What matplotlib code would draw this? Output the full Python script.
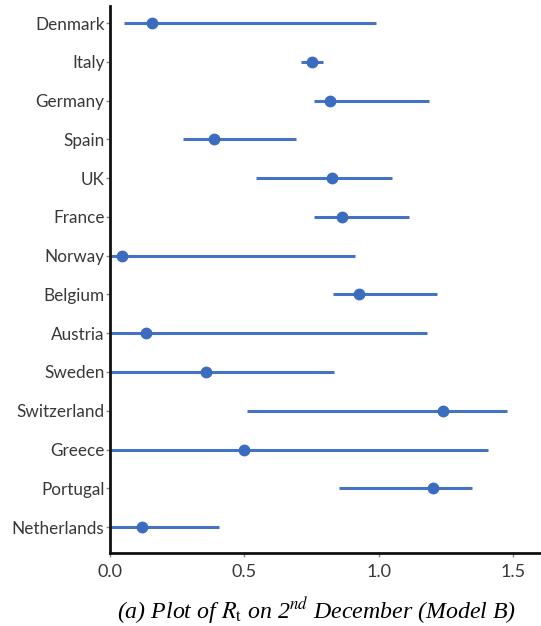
"""Forest-style plot of R_t per country on 2nd December (Model B)."""
import matplotlib
matplotlib.use("Agg")
import matplotlib.pyplot as plt

countries = ["Denmark", "Italy", "Germany", "Spain", "UK", "France", "Norway", "Belgium",
             "Austria", "Sweden", "Switzerland", "Greece", "Portugal", "Netherlands"]
rt_mean = [0.158, 0.752, 0.819, 0.387, 0.826, 0.865, 0.045, 0.925,
           0.135, 0.356, 1.238, 0.499, 1.203, 0.120]
rt_low = [0.054, 0.711, 0.761, 0.272, 0.545, 0.758, 0.0, 0.829,
          0.0, 0.0, 0.509, 0.0, 0.851, 0.0]
rt_high = [0.990, 0.793, 1.186, 0.692, 1.051, 1.114, 0.913, 1.217,
           1.179, 0.835, 1.476, 1.407, 1.346, 0.407]
xticks = [0.0, 0.5, 1.0, 1.5]

plt.rcParams["mathtext.fontset"] = "stix"

fig = plt.figure(figsize=(5.41, 6.26), dpi=100)
ax = fig.add_axes([0.2033, 0.1166, 0.7967, 0.8738])

ypos = list(range(len(countries)))
line_c, dot_c = "#4472C4", "#3b6cbf"
ax.hlines(ypos, rt_low, rt_high, color=line_c, lw=2.2, zorder=2)
ax.plot(rt_mean, ypos, "o", color=dot_c, ms=7.5, mec=dot_c, zorder=3)

ax.set_xlim(0, 1.604)
ax.set_ylim(len(countries) - 1 + 0.67, -0.44)
ax.set_yticks(ypos)
ax.set_yticklabels(countries)
ax.set_xticks(xticks)
ax.set_xticklabels([f"{v:.1f}" for v in xticks])

for side in ("top", "right"):
    ax.spines[side].set_visible(False)
for side in ("left", "bottom"):
    ax.spines[side].set_linewidth(2.0)
    ax.spines[side].set_color("#111111")
    ax.spines[side].set_zorder(4)

ax.tick_params(axis="both", direction="out", length=3, width=1, color="#888888",
               labelcolor="#383838", labelsize=12.3, pad=1)
ax.tick_params(axis="x", pad=5, labelsize=13)
for lab in ax.get_yticklabels() + ax.get_xticklabels():
    lab.set_family("Lato")

fig.text(0.586, 0.025, r"(a) Plot of $R_{\mathrm{t}}$ on 2$^{nd}$ December (Model B)",
         ha="center", va="center", fontsize=17.2, style="italic", family="Liberation Serif")

fig.savefig("out.png", dpi=100)
